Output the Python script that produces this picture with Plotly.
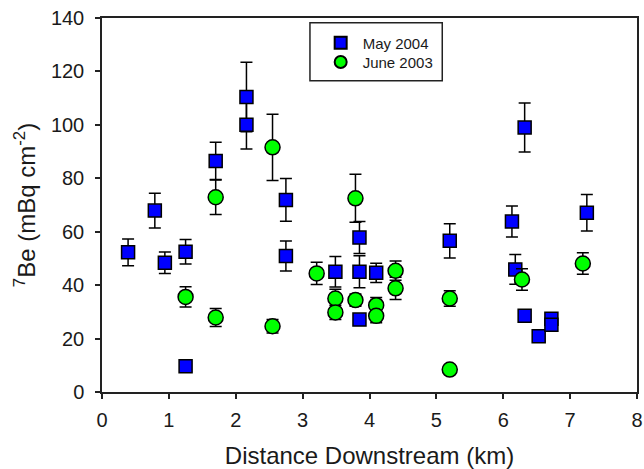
import plotly.graph_objects as go

# May 2004
may_x = [0.39, 0.79, 0.94, 1.25, 1.25, 1.70, 2.16, 2.16, 2.75, 2.75, 3.49, 3.85, 3.85, 3.85,
         4.10, 5.20, 6.13, 6.18, 6.32, 6.32, 6.53, 6.72, 6.72, 7.25]
may_y = [52.3, 67.9, 48.4, 52.5, 9.6, 86.5, 110.4, 100.0, 71.9, 50.9, 45.0, 57.8, 45.0, 27.1,
         44.6, 56.6, 63.8, 45.9, 99.0, 28.5, 20.9, 27.4, 25.2, 67.1]
may_err = [5.0, 6.5, 4.0, 4.6, None, 7.0, 13.0, 9.0, 8.0, 5.6, 5.7, 6.0, 6.0, 1.0,
           3.6, 6.4, 5.8, 5.6, 9.2, 1.0, None, 1.0, 1.0, 6.8]

# June 2003
jun_x = [1.25, 1.70, 1.70, 2.55, 2.55, 3.21, 3.49, 3.49, 3.79, 3.79, 4.10, 4.10, 4.39, 4.39,
         5.20, 5.20, 6.28, 7.19]
jun_y = [35.6, 72.9, 27.9, 91.6, 24.6, 44.4, 35.0, 29.8, 72.5, 34.4, 32.5, 28.5, 45.4, 38.8,
         35.0, 8.4, 42.1, 48.1]
jun_err = [3.8, 6.5, 3.4, 12.4, 2.5, 4.2, 3.5, 2.7, 9.0, 2.3, 2.9, 2.6, 3.6, 4.2,
           2.9, None, 4.0, 4.0]

x_ticks = [0, 1, 2, 3, 4, 5, 6, 7, 8]
y_ticks = [0, 20, 40, 60, 80, 100, 120, 140]

FONT = "Liberation Sans, Arial, sans-serif"
TXT = "#1a1a1a"

fig = go.Figure()
fig.add_trace(go.Scatter(
    x=may_x, y=may_y, mode="markers", name="May 2004", legend="legend",
    marker=dict(symbol="square", size=13, color="#0000ff", line=dict(color="black", width=1.5)),
    error_y=dict(type="data", array=may_err, visible=True, color="black", thickness=1.5, width=6),
))
fig.add_trace(go.Scatter(
    x=jun_x, y=jun_y, mode="markers", name="June 2003", legend="legend2",
    marker=dict(symbol="circle", size=15, color="#00ff00", line=dict(color="black", width=1.5)),
    error_y=dict(type="data", array=jun_err, visible=True, color="black", thickness=1.5, width=6),
))

axis_common = dict(
    showgrid=False, zeroline=False, showline=True, linecolor="#222", linewidth=1.5,
    mirror=True, ticks="outside", ticklen=5, tickwidth=1.5, tickcolor="#222",
    tickfont=dict(family=FONT, size=20, color=TXT), automargin=False,
)
fig.update_xaxes(range=[0, 8], tickvals=x_ticks, **axis_common, ticklabelstandoff=4,
                 title=dict(text="Distance Downstream (km)", font=dict(family=FONT, size=24, color=TXT), standoff=20))
fig.update_yaxes(range=[0, 140], tickvals=y_ticks, **axis_common, ticklabelstandoff=7,
                 title=dict(text="<sup>7</sup>Be (mBq cm<sup>-2</sup>)", font=dict(family=FONT, size=24, color=TXT), standoff=8))

# legend frame
fig.add_shape(type="rect", xref="paper", yref="paper",
              x0=0.3887, x1=0.636, y0=0.832, y1=0.987,
              line=dict(color="#222", width=1.5), fillcolor="rgba(0,0,0,0)")

leg_common = dict(xanchor="left", yanchor="top", borderwidth=0, bgcolor="rgba(0,0,0,0)",
                  itemwidth=34, font=dict(family=FONT, size=15, color=TXT), itemsizing="constant")

fig.update_layout(
    width=644, height=469,
    margin=dict(l=102, r=7, t=18, b=77),
    paper_bgcolor="white", plot_bgcolor="white",
    showlegend=True,
    legend=dict(x=0.405, y=0.977, **leg_common),
    legend2=dict(x=0.405, y=0.926, **leg_common),
)

fig.write_html("out.html")
